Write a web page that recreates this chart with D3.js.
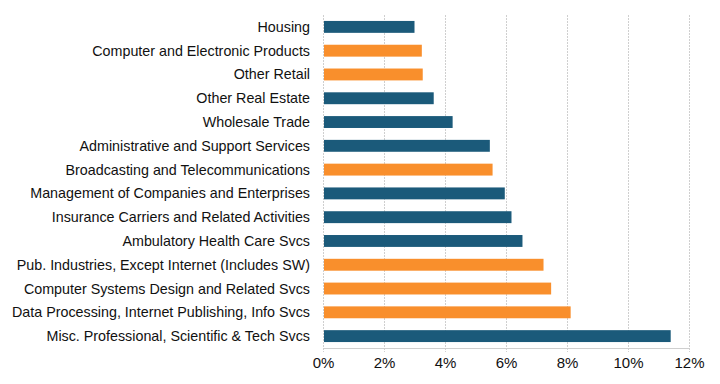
<!DOCTYPE html>
<html lang="en">
<head>
    <meta charset="UTF-8">
    <title>Industry shares</title>
    <script src="https://d3js.org/d3.v7.min.js"></script>
    <style>
        body { margin: 0; background: #fff; }
        text { font-family: "Liberation Sans", Arial, sans-serif; fill: #111; }
    </style>
</head>
<body>
    <svg id="chart" width="720" height="384"></svg>

    <script>
        // Data
        const industries = [
            "Housing",
            "Computer and Electronic Products",
            "Other Retail",
            "Other Real Estate",
            "Wholesale Trade",
            "Administrative and Support Services",
            "Broadcasting and Telecommunications",
            "Management of Companies and Enterprises",
            "Insurance Carriers and Related Activities",
            "Ambulatory Health Care Svcs",
            "Pub. Industries, Except Internet (Includes SW)",
            "Computer Systems Design and Related Svcs",
            "Data Processing, Internet Publishing, Info Svcs",
            "Misc. Professional, Scientific & Tech Svcs"
        ];
        const shares = [3.0, 3.24, 3.27, 3.63, 4.25, 5.47, 5.56, 5.96, 6.18, 6.54, 7.23, 7.48, 8.12, 11.4];
        // true = highlighted (orange) industry
        const highlighted = [false, true, true, false, false, false, true, false, false, false, true, true, true, false];
        const xTicks = [0, 2, 4, 6, 8, 10, 12];

        const svg = d3.select('#chart');
        const margin = { top: 15, right: 31, bottom: 36, left: 323 };
        const width = 720 - margin.left - margin.right;
        const height = 384 - margin.top - margin.bottom;

        const g = svg.append('g').attr('transform', `translate(${margin.left},${margin.top})`);

        const x = d3.scaleLinear().domain([0, 12]).range([0, width]);
        const y = d3.scaleBand().domain(industries).range([0, height]).paddingInner(0.5).paddingOuter(0.25);

        // dashed vertical gridlines
        g.selectAll('line.grid')
            .data(xTicks)
            .enter().append('line')
            .attr('class', 'grid')
            .attr('x1', d => x(d) + 0.5)
            .attr('x2', d => x(d) + 0.5)
            .attr('y1', 0)
            .attr('y2', height + 4)
            .attr('stroke', '#cfcfcf')
            .attr('stroke-dasharray', '2,1');

        // bars
        g.selectAll('rect')
            .data(industries)
            .enter().append('rect')
            .attr('x', x(0) + 1)
            .attr('y', d => y(d))
            .attr('width', (d, i) => x(shares[i]) - x(0) - 1)
            .attr('height', y.bandwidth())
            .attr('fill', (d, i) => highlighted[i] ? '#f98f2c' : '#1b5a7a');

        // x axis
        const xAxis = g.append('g')
            .attr('transform', `translate(0,${height})`)
            .call(d3.axisBottom(x).tickValues(xTicks).tickFormat(d => d + '%').tickSize(0).tickSizeOuter(0));
        xAxis.select('.domain').attr('stroke', '#cfcfcf');
        xAxis.selectAll('text').attr('font-size', 15).attr('dy', '1.15em');

        // category labels
        g.selectAll('text.label')
            .data(industries)
            .enter().append('text')
            .attr('class', 'label')
            .attr('x', -13)
            .attr('y', d => y(d) + y.bandwidth() / 2)
            .attr('dy', '0.35em')
            .attr('text-anchor', 'end')
            .attr('font-size', 14.3)
            .text(d => d);
    </script>
</body>
</html>
